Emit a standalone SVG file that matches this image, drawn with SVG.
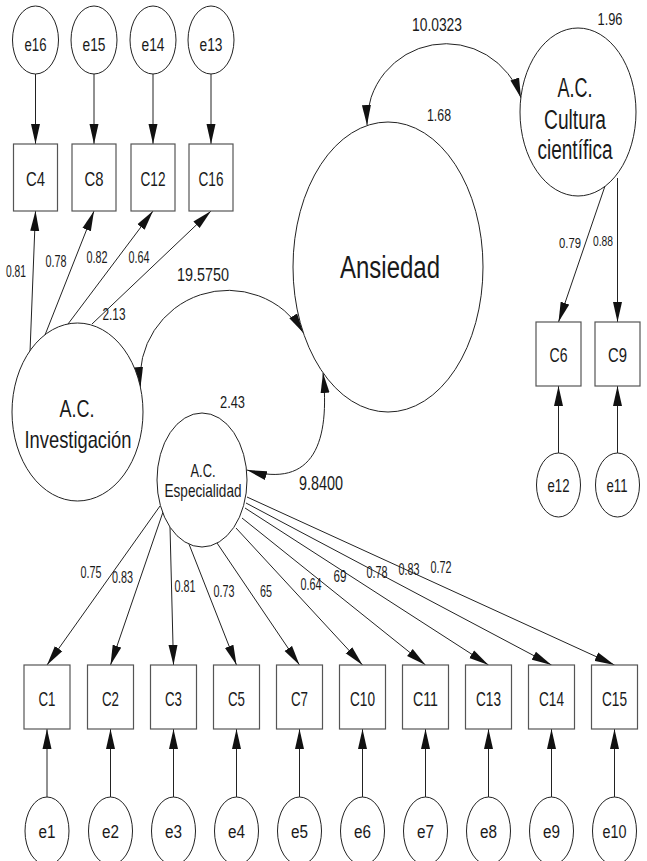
<svg xmlns="http://www.w3.org/2000/svg" width="647" height="861" viewBox="0 0 647 861">
<defs>
<marker id="ah" markerUnits="userSpaceOnUse" markerWidth="20" markerHeight="10" refX="20" refY="5" orient="auto-start-reverse" viewBox="0 0 20 10"><path d="M0,0.5 L20,5 L0,9.5 z" fill="#111"/></marker>
<style>
.n{fill:#fff;stroke:#222;stroke-width:1}
.b{fill:#fff;stroke:#555;stroke-width:1.2}
.c{fill:none;stroke:#222;stroke-width:1;marker-end:url(#ah)}
.cv{fill:none;stroke:#222;stroke-width:1;marker-start:url(#ah);marker-end:url(#ah)}
text{font-family:"Liberation Sans",Arial,sans-serif;fill:#1a1a1a;text-anchor:middle}
.e{font-size:18px}
.v{font-size:21px}
.l{font-size:17px}
</style>
</defs>
<rect width="647" height="861" fill="#fff"/>

<g id="connectors">
<line class="c" x1="35.5" y1="74" x2="35.5" y2="144"/>
<line class="c" x1="94" y1="74" x2="94" y2="144"/>
<line class="c" x1="153" y1="74" x2="153" y2="144"/>
<line class="c" x1="211" y1="74" x2="211" y2="144"/>
<line class="c" x1="30" y1="352" x2="35.5" y2="211"/>
<line class="c" x1="45" y1="335" x2="94" y2="211"/>
<line class="c" x1="68" y1="324" x2="153" y2="211"/>
<line class="c" x1="92" y1="324" x2="211" y2="211"/>
<line class="c" x1="605" y1="186" x2="558.5" y2="322"/>
<line class="c" x1="617.5" y1="178" x2="617.5" y2="322"/>
<line class="c" x1="558.5" y1="453" x2="558.5" y2="386"/>
<line class="c" x1="617.5" y1="453" x2="617.5" y2="386"/>
<path class="cv" d="M367,125 A79,79 0 0 1 521,98"/>
<path class="cv" d="M140.5,387 A88,88 0 0 1 303.5,333"/>
<path class="cv" d="M323,373 C330,440 315,490 247,470"/>
<line class="c" x1="160" y1="506" x2="47" y2="665"/>
<line class="c" x1="163" y1="512" x2="110.5" y2="665"/>
<line class="c" x1="170" y1="527" x2="173.5" y2="665"/>
<line class="c" x1="187" y1="539" x2="236.5" y2="665"/>
<line class="c" x1="217" y1="543" x2="299.5" y2="665"/>
<line class="c" x1="236" y1="528" x2="362.5" y2="665"/>
<line class="c" x1="242" y1="518" x2="425.5" y2="665"/>
<line class="c" x1="245" y1="508" x2="488.5" y2="665"/>
<line class="c" x1="246" y1="503" x2="551.5" y2="665"/>
<line class="c" x1="247" y1="497" x2="614.5" y2="665"/>
<line class="c" x1="47" y1="797" x2="47" y2="729"/>
<line class="c" x1="110.5" y1="797" x2="110.5" y2="729"/>
<line class="c" x1="173.5" y1="797" x2="173.5" y2="729"/>
<line class="c" x1="236.5" y1="797" x2="236.5" y2="729"/>
<line class="c" x1="299.5" y1="797" x2="299.5" y2="729"/>
<line class="c" x1="362.5" y1="797" x2="362.5" y2="729"/>
<line class="c" x1="425.5" y1="797" x2="425.5" y2="729"/>
<line class="c" x1="488.5" y1="797" x2="488.5" y2="729"/>
<line class="c" x1="551.5" y1="797" x2="551.5" y2="729"/>
<line class="c" x1="614.5" y1="797" x2="614.5" y2="729"/>
</g>

<g id="labels">
<text class="l" x="16" y="277" textLength="20" lengthAdjust="spacingAndGlyphs">0.81</text>
<text class="l" x="56" y="267" textLength="21" lengthAdjust="spacingAndGlyphs">0.78</text>
<text class="l" x="97" y="263" textLength="21" lengthAdjust="spacingAndGlyphs">0.82</text>
<text class="l" x="139" y="263" textLength="21" lengthAdjust="spacingAndGlyphs">0.64</text>
<text class="l" x="114" y="320" textLength="23" lengthAdjust="spacingAndGlyphs">2.13</text>
<text x="203" y="281" font-size="19" textLength="52" lengthAdjust="spacingAndGlyphs">19.5750</text>
<text x="437" y="31" font-size="19" textLength="50" lengthAdjust="spacingAndGlyphs">10.0323</text>
<text x="610" y="25" font-size="16" textLength="25" lengthAdjust="spacingAndGlyphs">1.96</text>
<text x="439" y="121" font-size="16" textLength="24" lengthAdjust="spacingAndGlyphs">1.68</text>
<text x="232.5" y="408" font-size="17" textLength="25" lengthAdjust="spacingAndGlyphs">2.43</text>
<text x="321" y="490" font-size="20" textLength="44" lengthAdjust="spacingAndGlyphs">9.8400</text>
<text x="570" y="248" font-size="14" textLength="22" lengthAdjust="spacingAndGlyphs">0.79</text>
<text x="603" y="246" font-size="14" textLength="20" lengthAdjust="spacingAndGlyphs">0.88</text>
<text class="l" x="91" y="578" textLength="21" lengthAdjust="spacingAndGlyphs">0.75</text>
<text class="l" x="122.5" y="583" textLength="21" lengthAdjust="spacingAndGlyphs">0.83</text>
<text class="l" x="185" y="592" textLength="21" lengthAdjust="spacingAndGlyphs">0.81</text>
<text class="l" x="224" y="597" textLength="21" lengthAdjust="spacingAndGlyphs">0.73</text>
<text class="l" x="266" y="597" textLength="12" lengthAdjust="spacingAndGlyphs">65</text>
<text class="l" x="311" y="590" textLength="21" lengthAdjust="spacingAndGlyphs">0.64</text>
<text class="l" x="340" y="582" textLength="13" lengthAdjust="spacingAndGlyphs">69</text>
<text class="l" x="377" y="578" textLength="21" lengthAdjust="spacingAndGlyphs">0.78</text>
<text class="l" x="409" y="575" textLength="21" lengthAdjust="spacingAndGlyphs">0.83</text>
<text class="l" x="441" y="573" textLength="21" lengthAdjust="spacingAndGlyphs">0.72</text>
</g>

<g id="e16"><ellipse class="n" cx="35.5" cy="40" rx="23" ry="34"/><text class="e" x="35.5" y="51" textLength="22" lengthAdjust="spacingAndGlyphs">e16</text></g>
<g id="e15"><ellipse class="n" cx="94" cy="40" rx="23" ry="34"/><text class="e" x="94" y="51" textLength="23" lengthAdjust="spacingAndGlyphs">e15</text></g>
<g id="e14"><ellipse class="n" cx="153" cy="40" rx="23" ry="34"/><text class="e" x="153" y="51" textLength="23" lengthAdjust="spacingAndGlyphs">e14</text></g>
<g id="e13"><ellipse class="n" cx="211" cy="40" rx="23" ry="34"/><text class="e" x="211" y="51" textLength="23" lengthAdjust="spacingAndGlyphs">e13</text></g>

<g id="C4"><rect class="b" x="13.5" y="144" width="44" height="67"/><text class="v" x="35.5" y="186" textLength="19" lengthAdjust="spacingAndGlyphs">C4</text></g>
<g id="C8"><rect class="b" x="72" y="144" width="44" height="67"/><text class="v" x="94" y="186" textLength="19" lengthAdjust="spacingAndGlyphs">C8</text></g>
<g id="C12"><rect class="b" x="131" y="144" width="44" height="67"/><text class="v" x="153" y="186" textLength="25" lengthAdjust="spacingAndGlyphs">C12</text></g>
<g id="C16"><rect class="b" x="189" y="144" width="44" height="67"/><text class="v" x="211" y="186" textLength="25" lengthAdjust="spacingAndGlyphs">C16</text></g>

<g id="Ansiedad"><ellipse class="n" cx="388" cy="267" rx="95" ry="145"/><text x="390" y="278" font-size="31" textLength="100" lengthAdjust="spacingAndGlyphs">Ansiedad</text></g>

<g id="Cultura"><ellipse class="n" cx="578" cy="112" rx="58" ry="84"/>
<text x="575" y="97" font-size="27" textLength="35" lengthAdjust="spacingAndGlyphs">A.C.</text>
<text x="575" y="129" font-size="27" textLength="62" lengthAdjust="spacingAndGlyphs">Cultura</text>
<text x="575" y="159" font-size="27" textLength="75" lengthAdjust="spacingAndGlyphs">científica</text></g>

<g id="Investigacion"><ellipse class="n" cx="77.5" cy="412" rx="65.5" ry="89"/>
<text x="77" y="417" font-size="24" textLength="35" lengthAdjust="spacingAndGlyphs">A.C.</text>
<text x="78" y="448" font-size="24" textLength="107" lengthAdjust="spacingAndGlyphs">Investigación</text></g>

<g id="Especialidad"><ellipse class="n" cx="202" cy="480" rx="45" ry="67"/>
<text x="203" y="477" font-size="19" textLength="25" lengthAdjust="spacingAndGlyphs">A.C.</text>
<text x="203" y="497" font-size="19" textLength="77" lengthAdjust="spacingAndGlyphs">Especialidad</text></g>

<g id="C6"><rect class="b" x="536" y="322" width="45" height="64"/><text class="v" x="558.5" y="362" textLength="18" lengthAdjust="spacingAndGlyphs">C6</text></g>
<g id="C9"><rect class="b" x="595" y="322" width="45" height="64"/><text class="v" x="617.5" y="362" textLength="19" lengthAdjust="spacingAndGlyphs">C9</text></g>
<g id="e12"><ellipse class="n" cx="558.5" cy="485" rx="22" ry="32"/><text class="e" x="558.5" y="492" textLength="22" lengthAdjust="spacingAndGlyphs">e12</text></g>
<g id="e11"><ellipse class="n" cx="617.5" cy="485" rx="22" ry="32"/><text class="e" x="617" y="492" textLength="21" lengthAdjust="spacingAndGlyphs">e11</text></g>

<g id="C1"><rect class="b" x="24" y="665" width="46" height="64"/><text class="v" x="47" y="706" textLength="17" lengthAdjust="spacingAndGlyphs">C1</text></g>
<g id="C2"><rect class="b" x="87.5" y="665" width="46" height="64"/><text class="v" x="110.5" y="706" textLength="17" lengthAdjust="spacingAndGlyphs">C2</text></g>
<g id="C3"><rect class="b" x="150.5" y="665" width="46" height="64"/><text class="v" x="173.5" y="706" textLength="17" lengthAdjust="spacingAndGlyphs">C3</text></g>
<g id="C5"><rect class="b" x="213.5" y="665" width="46" height="64"/><text class="v" x="236.5" y="706" textLength="17" lengthAdjust="spacingAndGlyphs">C5</text></g>
<g id="C7"><rect class="b" x="276.5" y="665" width="46" height="64"/><text class="v" x="299.5" y="706" textLength="17" lengthAdjust="spacingAndGlyphs">C7</text></g>
<g id="C10"><rect class="b" x="339.5" y="665" width="46" height="64"/><text class="v" x="362.5" y="706" textLength="25" lengthAdjust="spacingAndGlyphs">C10</text></g>
<g id="C11"><rect class="b" x="402.5" y="665" width="46" height="64"/><text class="v" x="425.5" y="706" textLength="25" lengthAdjust="spacingAndGlyphs">C11</text></g>
<g id="C13"><rect class="b" x="465.5" y="665" width="46" height="64"/><text class="v" x="488.5" y="706" textLength="25" lengthAdjust="spacingAndGlyphs">C13</text></g>
<g id="C14"><rect class="b" x="528.5" y="665" width="46" height="64"/><text class="v" x="551.5" y="706" textLength="25" lengthAdjust="spacingAndGlyphs">C14</text></g>
<g id="C15"><rect class="b" x="591.5" y="665" width="46" height="64"/><text class="v" x="614.5" y="706" textLength="25" lengthAdjust="spacingAndGlyphs">C15</text></g>

<g id="e1"><ellipse class="n" cx="47" cy="831" rx="22" ry="34"/><text class="e" x="47" y="838" textLength="17" lengthAdjust="spacingAndGlyphs">e1</text></g>
<g id="e2"><ellipse class="n" cx="110.5" cy="831" rx="22" ry="34"/><text class="e" x="110.5" y="838" textLength="17" lengthAdjust="spacingAndGlyphs">e2</text></g>
<g id="e3"><ellipse class="n" cx="173.5" cy="831" rx="22" ry="34"/><text class="e" x="173.5" y="838" textLength="17" lengthAdjust="spacingAndGlyphs">e3</text></g>
<g id="e4"><ellipse class="n" cx="236.5" cy="831" rx="22" ry="34"/><text class="e" x="236.5" y="838" textLength="17" lengthAdjust="spacingAndGlyphs">e4</text></g>
<g id="e5"><ellipse class="n" cx="299.5" cy="831" rx="22" ry="34"/><text class="e" x="299.5" y="838" textLength="17" lengthAdjust="spacingAndGlyphs">e5</text></g>
<g id="e6"><ellipse class="n" cx="362.5" cy="831" rx="22" ry="34"/><text class="e" x="362.5" y="838" textLength="17" lengthAdjust="spacingAndGlyphs">e6</text></g>
<g id="e7"><ellipse class="n" cx="425.5" cy="831" rx="22" ry="34"/><text class="e" x="425.5" y="838" textLength="17" lengthAdjust="spacingAndGlyphs">e7</text></g>
<g id="e8"><ellipse class="n" cx="488.5" cy="831" rx="22" ry="34"/><text class="e" x="488.5" y="838" textLength="17" lengthAdjust="spacingAndGlyphs">e8</text></g>
<g id="e9"><ellipse class="n" cx="551.5" cy="831" rx="22" ry="34"/><text class="e" x="551.5" y="838" textLength="17" lengthAdjust="spacingAndGlyphs">e9</text></g>
<g id="e10"><ellipse class="n" cx="614.5" cy="831" rx="22" ry="34"/><text class="e" x="614.5" y="838" textLength="24" lengthAdjust="spacingAndGlyphs">e10</text></g>
</svg>
